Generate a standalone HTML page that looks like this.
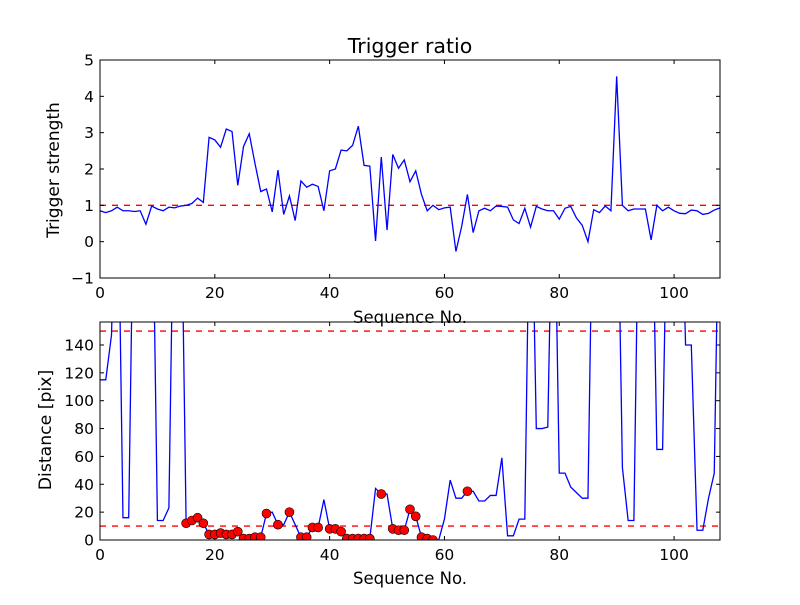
<!DOCTYPE html>
<html><head><meta charset="utf-8"><style>
body{margin:0;background:#fff}
svg text{font-family:"DejaVu Sans","Liberation Sans",sans-serif;fill:#000}
</style></head><body>
<svg id="c" width="800" height="600" viewBox="0 0 800 600">
<rect width="800" height="600" fill="#fff"/>
<defs>
<clipPath id="c1"><rect x="100" y="60" width="620" height="218"/></clipPath>
<clipPath id="c2"><rect x="100" y="322" width="620" height="218"/></clipPath>
</defs>
<g id="topPlot"></g>
<g id="botPlot"></g>
<text x="410" y="53" font-size="20.5" text-anchor="middle">Trigger ratio</text>
<text x="410" y="323" font-size="16.5" text-anchor="middle">Sequence No.</text>
<text x="410" y="584" font-size="16.5" text-anchor="middle">Sequence No.</text>
<text transform="translate(59,170) rotate(-90)" font-size="17" text-anchor="middle">Trigger strength</text>
<text transform="translate(51,430) rotate(-90)" font-size="17.3" text-anchor="middle">Distance [pix]</text>
</svg>
<script>
const strength=[0.85,0.8,0.85,0.95,0.85,0.85,0.83,0.85,0.48,0.98,0.9,0.85,0.95,0.93,0.98,1.0,1.05,1.2,1.08,2.87,2.8,2.6,3.1,3.03,1.55,2.62,2.97,2.15,1.38,1.45,0.82,1.97,0.75,1.26,0.58,1.67,1.5,1.58,1.52,0.85,1.95,2.0,2.52,2.5,2.65,3.18,2.1,2.08,0.02,2.33,0.32,2.4,2.02,2.25,1.65,1.95,1.3,0.85,1.0,0.88,0.93,0.95,-0.27,0.42,1.3,0.25,0.85,0.92,0.85,0.98,0.97,0.95,0.6,0.5,0.92,0.4,0.97,0.9,0.85,0.85,0.62,0.92,0.97,0.65,0.45,0.0,0.88,0.8,0.98,0.85,4.55,1.0,0.85,0.9,0.9,0.9,0.05,1.0,0.85,0.95,0.85,0.78,0.77,0.87,0.85,0.75,0.78,0.87,0.93];
const distance=[115,115,147,300,16,16,300,300,300,300,14,14,23,300,300,12,14,16,12,4,4,5,4,4,6,1,1,2,2,19,20,11,11,20,11,2,2,9,9,29,8,8,6,1,1,1,1,1,37,33,33,8,7,7,22,17,2,1,0,0,15,43,30,30,35,35,28,28,32,32,59,3,3,15,15,300,80,80,81,300,48,48,38,34,30,30,300,300,300,300,300,52,14,14,300,300,300,65,65,300,300,300,140,140,7,7,30,48,300];
const markedIdx=[15,16,17,18,19,20,21,22,23,24,25,26,27,28,29,31,33,35,36,37,38,40,41,42,43,44,45,46,47,49,51,52,53,54,55,56,57,58,64];
const xTicks=[0,20,40,60,80,100];
const topYTicks=[-1,0,1,2,3,4,5];
const botYTicks=[0,20,40,60,80,100,120,140];
const topThresh=[1];
const botThresh=[10,150];
const NS='http://www.w3.org/2000/svg';
const X0=100,X1=720,XMAX=108;
const xs=v=>X0+v/XMAX*(X1-X0);
const ysTop=v=>278-(v+1)/6*218;
const ysBot=v=>540-v/156.5*218;
function mk(p,t,a){const e=document.createElementNS(NS,t);for(const k in a)e.setAttribute(k,a[k]);p.appendChild(e);return e;}
function axes(g,T,ys,yt,th){
  const B=T+218;
  th.forEach(v=>{
    const l=mk(g,'line',{x1:X0,x2:X1,y1:ys(v),y2:ys(v),stroke:'#f00','stroke-width':1.4,'stroke-dasharray':'6,6'});
    
    
  });
  xTicks.forEach(v=>{
    const x=xs(v);
    mk(g,'line',{x1:x,x2:x,y1:B,y2:B-4,stroke:'#000'});
    mk(g,'line',{x1:x,x2:x,y1:T,y2:T+4,stroke:'#000'});
    const t=mk(g,'text',{x:x,y:B+20,'font-size':15.5,'text-anchor':'middle'});t.textContent=v;
    
    
  });
  yt.forEach(v=>{
    const y=ys(v);
    mk(g,'line',{x1:X0,x2:X0+4,y1:y,y2:y,stroke:'#000'});
    mk(g,'line',{x1:X1,x2:X1-4,y1:y,y2:y,stroke:'#000'});
    const t=mk(g,'text',{x:X0-6,y:y+5.5,'font-size':15.5,'text-anchor':'end'});t.textContent=(v<0?'\u2212'+(-v):v);
    
    
  });
}
const gTop=document.getElementById('topPlot'),gBot=document.getElementById('botPlot');
axes(gTop,60,ysTop,topYTicks,topThresh);
const p1=mk(gTop,'polyline',{points:strength.map((v,i)=>xs(i)+','+ysTop(v)).join(' '),fill:'none',stroke:'#00f','stroke-width':1.3,'clip-path':'url(#c1)'});


mk(gTop,'rect',{x:X0,y:60,width:620,height:218,fill:'none',stroke:'#000'});
axes(gBot,322,ysBot,botYTicks,botThresh);
const g2=mk(gBot,'g',{'clip-path':'url(#c2)'});
const p2=mk(g2,'polyline',{points:distance.map((v,i)=>xs(i)+','+ysBot(v)).join(' '),fill:'none',stroke:'#00f','stroke-width':1.3});


markedIdx.forEach(i=>{
  const c=mk(g2,'circle',{cx:xs(i),cy:ysBot(distance[i]),r:4.5,fill:'#f00',stroke:'#000','stroke-width':0.6});
  
  
});
mk(gBot,'rect',{x:X0,y:322,width:620,height:218,fill:'none',stroke:'#000'});
</script>
</body></html>
